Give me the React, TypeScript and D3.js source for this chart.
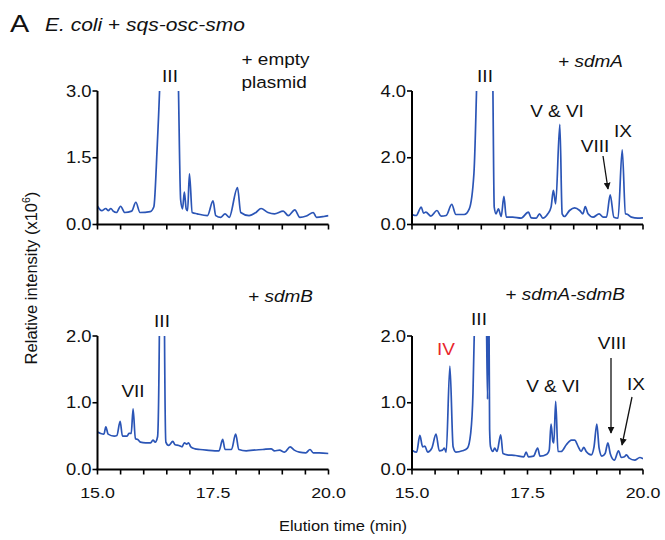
import React from 'react';
import * as d3 from 'd3';

// elution time ticks (min) and the labelled ones
const timeTicks = [15.0, 15.5, 16.0, 16.5, 17.0, 17.5, 18.0, 18.5, 19.0, 19.5, 20.0];
const timeLabels = [15.0, 17.5, 20.0];

const emptyYTicks = [0.0, 1.5, 3.0];
const sdmAYTicks = [0.0, 2.0, 4.0];
const sdmBYTicks = [0.0, 1.0, 2.0];
const sdmABYTicks = [0.0, 1.0, 2.0];

// [time (min), intensity (x10^6)]
const emptyTrace: [number, number][] = [
  [15.0, 0.41], [15.09, 0.31], [15.18, 0.36], [15.23, 0.31], [15.29, 0.36], [15.34, 0.3],
  [15.41, 0.27], [15.5, 0.41], [15.59, 0.27], [15.74, 0.3], [15.83, 0.5], [15.92, 0.27],
  [16.14, 0.29], [16.22, 0.4], [16.29, 1.7], [16.35, 3.2], [16.55, 14], [16.75, 3.2],
  [16.8, 0.55], [16.84, 0.35], [16.88, 0.73], [16.92, 0.35], [16.95, 0.31], [16.99, 1.14],
  [17.05, 0.27], [17.16, 0.24], [17.38, 0.2], [17.5, 0.53], [17.56, 0.2], [17.67, 0.16],
  [17.76, 0.24], [17.85, 0.16], [18.03, 0.83], [18.1, 0.27], [18.28, 0.2], [18.43, 0.27],
  [18.54, 0.36], [18.69, 0.27], [18.83, 0.24], [19.02, 0.3], [19.13, 0.2], [19.27, 0.33],
  [19.38, 0.16], [19.52, 0.19], [19.67, 0.27], [19.74, 0.16], [19.9, 0.18], [20.0, 0.2],
];

const sdmATrace: [number, number][] = [
  [15.0, 0.3], [15.09, 0.27], [15.2, 0.52], [15.25, 0.34], [15.3, 0.37], [15.41, 0.25],
  [15.54, 0.42], [15.63, 0.25], [15.74, 0.27], [15.86, 0.6], [15.95, 0.3], [16.13, 0.3],
  [16.24, 0.47], [16.34, 1.52], [16.4, 4.2], [16.57, 20], [16.75, 4.2], [16.78, 0.52],
  [16.82, 0.32], [16.87, 0.47], [16.93, 0.24], [16.99, 0.84], [17.04, 0.22], [17.18, 0.22],
  [17.36, 0.19], [17.52, 0.37], [17.58, 0.2], [17.69, 0.19], [17.76, 0.32], [17.83, 0.19],
  [17.94, 0.32], [18.01, 0.52], [18.06, 1.02], [18.11, 0.62], [18.2, 3.0], [18.25, 0.32],
  [18.3, 0.24], [18.41, 0.42], [18.52, 0.5], [18.63, 0.42], [18.7, 0.32], [18.75, 0.54],
  [18.81, 0.32], [18.92, 0.22], [19.05, 0.32], [19.14, 0.22], [19.21, 0.22], [19.29, 0.89],
  [19.37, 0.22], [19.46, 0.19], [19.55, 2.24], [19.62, 0.32], [19.67, 0.3], [19.75, 0.22],
  [19.89, 0.19], [20.0, 0.2],
];

const sdmBTrace: [number, number][] = [
  [15.0, 0.56], [15.07, 0.54], [15.14, 0.53], [15.18, 0.64], [15.23, 0.53], [15.36, 0.5],
  [15.42, 0.51], [15.49, 0.72], [15.54, 0.5], [15.64, 0.5], [15.68, 0.54], [15.73, 0.54],
  [15.77, 0.91], [15.82, 0.46], [15.87, 0.45], [15.93, 0.41], [16.04, 0.4], [16.15, 0.4],
  [16.2, 0.44], [16.25, 0.41], [16.3, 0.49], [16.34, 2.1], [16.4, 12], [16.45, 2.1],
  [16.48, 0.41], [16.54, 0.36], [16.63, 0.42], [16.68, 0.37], [16.76, 0.36], [16.83, 0.34],
  [16.88, 0.4], [16.93, 0.38], [16.97, 0.4], [17.02, 0.34], [17.11, 0.31], [17.22, 0.3],
  [17.36, 0.29], [17.54, 0.28], [17.63, 0.28], [17.71, 0.45], [17.76, 0.3], [17.9, 0.3],
  [17.99, 0.53], [18.06, 0.3], [18.22, 0.28], [18.37, 0.29], [18.58, 0.3], [18.76, 0.31],
  [18.83, 0.28], [18.94, 0.29], [19.05, 0.26], [19.17, 0.34], [19.26, 0.29], [19.37, 0.26],
  [19.51, 0.25], [19.6, 0.3], [19.67, 0.25], [19.8, 0.25], [20.0, 0.24],
];

const sdmABTrace: [number, number][] = [
  [15.0, 0.29], [15.1, 0.26], [15.17, 0.51], [15.23, 0.34], [15.28, 0.35], [15.34, 0.26],
  [15.43, 0.32], [15.52, 0.53], [15.59, 0.28], [15.66, 0.29], [15.7, 0.32], [15.74, 0.26],
  [15.82, 1.55], [15.89, 0.34], [15.95, 0.26], [16.09, 0.28], [16.2, 0.32], [16.27, 0.54],
  [16.32, 1.15], [16.35, 2.1], [16.5, 12], [16.61, 2.4], [16.635, 1.05], [16.655, 3.5],
  [16.68, 0.6], [16.7, 0.34], [16.75, 0.27], [16.79, 0.32], [16.84, 0.27], [16.92, 0.52],
  [16.97, 0.24], [17.06, 0.22], [17.24, 0.21], [17.42, 0.19], [17.47, 0.26], [17.52, 0.19],
  [17.63, 0.2], [17.72, 0.32], [17.77, 0.2], [17.92, 0.23], [17.97, 0.29], [18.01, 0.68],
  [18.05, 0.42], [18.07, 0.4], [18.11, 1.02], [18.16, 0.27], [18.23, 0.27], [18.34, 0.37],
  [18.45, 0.44], [18.52, 0.44], [18.6, 0.34], [18.66, 0.27], [18.72, 0.33], [18.77, 0.27],
  [18.88, 0.22], [18.94, 0.34], [19.0, 0.68], [19.05, 0.32], [19.11, 0.2], [19.18, 0.24],
  [19.24, 0.4], [19.29, 0.24], [19.38, 0.14], [19.47, 0.28], [19.53, 0.18], [19.6, 0.19],
  [19.64, 0.22], [19.7, 0.17], [19.82, 0.14], [19.93, 0.18], [20.0, 0.16],
];

const FONT = '"Liberation Sans", Arial, Helvetica, sans-serif';
const LINE = '#2b55b6';
const SX = 1.15; // the figure is a bit wider than tall

type Note = { text: string; dx: number; dy: number; anchor?: string; color?: string; italic?: string };
type Arrow = { x1: number; y1: number; x2: number; y2: number };

const panels = [
  {
    id: 'empty', x0: 97.5, y0: 91, trace: emptyTrace, yTicks: emptyYTicks, yMax: 3.0, xLabels: false,
    notes: [
      { text: '+ empty', dx: 144, dy: -26, anchor: 'start' },
      { text: 'plasmid', dx: 144, dy: -3, anchor: 'start' },
      { text: 'III', dx: 72.5, dy: -9 },
    ] as Note[],
    arrows: [] as Arrow[],
  },
  {
    id: 'sdmA', x0: 412, y0: 91, trace: sdmATrace, yTicks: sdmAYTicks, yMax: 4.0, xLabels: false,
    notes: [
      { text: '+ ', italic: 'sdmA', dx: 211, dy: -24, anchor: 'end' },
      { text: 'III', dx: 73, dy: -9 },
      { text: 'V & VI', dx: 145, dy: 26 },
      { text: 'VIII', dx: 183, dy: 61 },
      { text: 'IX', dx: 211, dy: 46 },
    ] as Note[],
    arrows: [{ x1: 191, y1: 65, x2: 196, y2: 98 }],
  },
  {
    id: 'sdmB', x0: 97.5, y0: 336, trace: sdmBTrace, yTicks: sdmBYTicks, yMax: 2.0, xLabels: true,
    notes: [
      { text: '+ ', italic: 'sdmB', dx: 215.5, dy: -34, anchor: 'end' },
      { text: 'III', dx: 64.5, dy: -9 },
      { text: 'VII', dx: 35.5, dy: 61 },
    ] as Note[],
    arrows: [] as Arrow[],
  },
  {
    id: 'sdmAB', x0: 412, y0: 336, trace: sdmABTrace, yTicks: sdmABYTicks, yMax: 2.0, xLabels: true,
    notes: [
      { text: '+ ', italic: 'sdmA-sdmB', dx: 213, dy: -36, anchor: 'end' },
      { text: 'III', dx: 67, dy: -11 },
      { text: 'IV', dx: 34, dy: 19, color: '#e8262b' },
      { text: 'V & VI', dx: 141, dy: 56 },
      { text: 'VIII', dx: 200, dy: 13 },
      { text: 'IX', dx: 224, dy: 54 },
    ] as Note[],
    arrows: [
      { x1: 199, y1: 22, x2: 199, y2: 97 },
      { x1: 220, y1: 61, x2: 210, y2: 109 },
    ],
  },
];

const W = 231;
const H = 133.5;

function Panel({ p }: { p: typeof panels[number] }) {
  const x = d3.scaleLinear().domain([15, 20]).range([0, W]);
  const y = d3.scaleLinear().domain([0, p.yMax]).range([H, 0]);
  const line = d3.line<[number, number]>()
    .x(d => x(d[0]))
    .y(d => y(d[1]))
    .curve(d3.curveMonotoneX);

  return (
    <g transform={`translate(${p.x0},${p.y0})`}>
      <defs>
        <clipPath id={`clip-${p.id}`}>
          <rect x={0} y={0} width={W} height={H} />
        </clipPath>
      </defs>
      <path d={line(p.trace) || ''} fill="none" stroke={LINE} strokeWidth={1.7}
        clipPath={`url(#clip-${p.id})`} />
      {/* axes */}
      <line x1={0} x2={0} y1={0} y2={H} stroke="#000" strokeWidth={2} />
      <line x1={-1} x2={W} y1={H} y2={H} stroke="#000" strokeWidth={2} />
      {p.yTicks.map(t => (
        <g key={t}>
          <line x1={-5} x2={0} y1={y(t)} y2={y(t)} stroke="#000" strokeWidth={1.6} />
          <text transform={`translate(${-6},${y(t) + 5.5}) scale(${SX},1)`} textAnchor="end"
            fontSize={16} fontFamily={FONT} fill="#111">{t.toFixed(1)}</text>
        </g>
      ))}
      {timeTicks.map(t => (
        <line key={t} x1={x(t)} x2={x(t)} y1={H} y2={H + 5} stroke="#000" strokeWidth={1.6} />
      ))}
      {p.xLabels && timeLabels.map(t => (
        <text key={t} transform={`translate(${x(t)},${H + 28}) scale(${SX},1)`} textAnchor="middle"
          fontSize={15.5} fontFamily={FONT} fill="#111">{t.toFixed(1)}</text>
      ))}
      {p.notes.map((n, i) => (
        <text key={i} transform={`translate(${n.dx},${n.dy}) scale(${SX},1)`}
          textAnchor={n.anchor || 'middle'} fontSize={16.5} fontFamily={FONT} fill={n.color || '#111'}>
          {n.text}{n.italic && <tspan fontStyle="italic">{n.italic}</tspan>}
        </text>
      ))}
      {p.arrows.map((a, i) => (
        <line key={i} x1={a.x1} y1={a.y1} x2={a.x2} y2={a.y2} stroke="#111" strokeWidth={1.3}
          markerEnd="url(#arrowhead)" />
      ))}
    </g>
  );
}

export default function App() {
  return (
    <svg width={665} height={540} style={{ position: 'absolute', left: 0, top: 0, background: '#fff' }}>
      <defs>
        <marker id="arrowhead" viewBox="0 0 10 10" refX={9} refY={5} markerWidth={7} markerHeight={7}
          orient="auto" markerUnits="userSpaceOnUse">
          <path d="M0,0 L10,5 L0,10 z" fill="#111" />
        </marker>
      </defs>
      <rect width={665} height={540} fill="#fff" />
      <text transform="translate(10,32) scale(1.2,1)" fontSize={24} fontFamily={FONT} fill="#111">A</text>
      <text transform={`translate(45,31) scale(1.2,1)`} fontSize={17.5} fontFamily={FONT} fill="#111">
        <tspan fontStyle="italic">E. coli</tspan> + <tspan fontStyle="italic">sqs-osc-smo</tspan>
      </text>
      <text transform="translate(37,278) rotate(-90)" textAnchor="middle" fontSize={16.5}
        fontFamily={FONT} fill="#111">
        Relative intensity (x10<tspan fontSize={10.5} dy={-7}>6</tspan><tspan dy={7}>)</tspan>
      </text>
      <text transform={`translate(343,531) scale(1.1,1)`} textAnchor="middle" fontSize={15}
        fontFamily={FONT} fill="#111">Elution time (min)</text>
      {panels.map(p => <Panel key={p.id} p={p} />)}
    </svg>
  );
}
